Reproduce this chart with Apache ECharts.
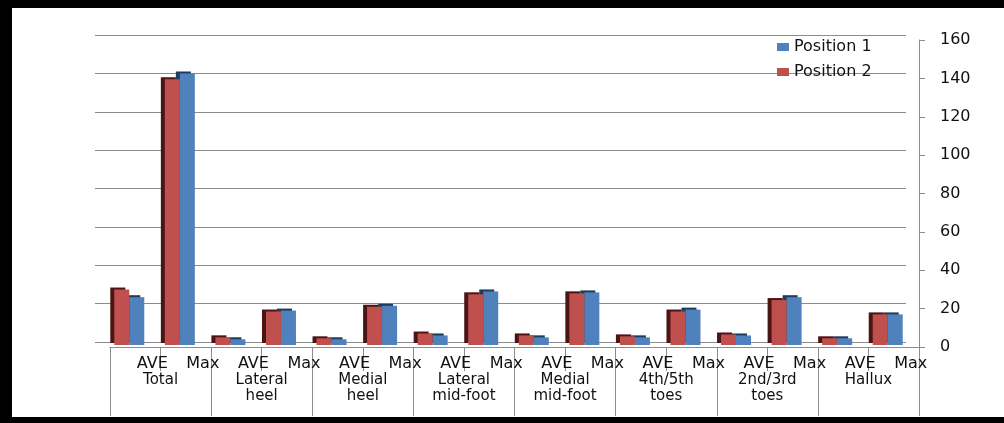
<!DOCTYPE html>
<html>
<head>
<meta charset="utf-8">
<script src="https://cdn.jsdelivr.net/npm/echarts@6/dist/echarts.min.js"></script>
<style>
  html, body { margin: 0; padding: 0; background: #fff; }
  #chart { position: absolute; left: 0; top: 0; width: 1004px; height: 423px; }
  #frame {
    position: absolute; left: 0; top: 0; width: 1004px; height: 423px;
    box-sizing: border-box; pointer-events: none;
    border-left: 12px solid #000; border-top: 8px solid #000; border-bottom: 6px solid #000;
  }
</style>
</head>
<body>
<div id="chart"></div>
<div id="frame"></div>
<script>
// categories
const regions = ['Total', 'Lateral\nheel', 'Medial\nheel', 'Lateral\nmid-foot',
  'Medial\nmid-foot', '4th/5th\ntoes', '2nd/3rd\ntoes', 'Hallux']
const stats = ['AVE', 'Max']

// series values, AVE/Max per region
const position1 = [25, 142, 3, 18, 3, 20.5, 5, 28, 4, 27.5, 4, 18.5, 5, 25, 3.5, 16]
const position2 = [29, 139, 4, 17.5, 3.5, 20, 6, 26.5, 5, 27, 4.5, 17.5, 5.5, 23.5, 3.5, 16]

// unique keys, one slot per bar pair
const cats = regions.flatMap(r => stats.map(s => r + '|' + s))

const FONT = 'DejaVu Sans'
const GRID_GRAY = '#8c8c8c'

const chart = echarts.init(document.getElementById('chart'))

const front = { left: 110, right: 85, top: 40, bottom: 76 }

chart.setOption({
  backgroundColor: '#fff',
  animation: false,
  textStyle: { fontFamily: FONT },
  legend: {
    orient: 'vertical',
    left: 772,
    top: 34,
    icon: 'rect',
    itemWidth: 12,
    itemHeight: 8,
    itemGap: 9,
    data: ['Position 1', 'Position 2'],
    textStyle: { fontFamily: FONT, fontSize: 16, color: '#111' },
  },
  grid: [
    // back wall (gridlines)
    { left: 95, right: 98, top: 35, bottom: 81 },
    // bars
    { left: 104, right: 91, top: 39, bottom: 78 },
    // front axes: AVE/Max + y axis
    front,
    // region axis
    front,
    // short separators
    front,
  ],
  xAxis: [
    { type: 'category', gridIndex: 0, data: cats, show: false },
    { type: 'category', gridIndex: 1, data: cats, show: false },
    {
      // AVE / Max labels
      type: 'category',
      gridIndex: 2,
      data: cats,
      axisLine: { lineStyle: { color: GRID_GRAY, width: 1 } },
      axisTick: { show: false },
      axisLabel: {
        interval: 0,
        margin: 9,
        padding: [0, 0, 0, 34],
        color: '#111',
        fontFamily: FONT,
        fontSize: 16,
        formatter: v => v.split('|')[1],
      },
    },
    {
      // region labels + long separators
      type: 'category',
      gridIndex: 3,
      data: regions,
      axisLine: { show: false },
      axisTick: { show: true, interval: 0, length: 69, lineStyle: { color: GRID_GRAY } },
      axisLabel: {
        interval: 0,
        margin: 25,
        lineHeight: 16,
        color: '#111',
        fontFamily: FONT,
        fontSize: 15,
      },
    },
    {
      // short separators at every category boundary
      type: 'value',
      gridIndex: 4,
      min: 0,
      max: cats.length,
      interval: 1,
      axisLine: { show: false },
      axisTick: { show: true, length: 24, lineStyle: { color: GRID_GRAY, width: 1 } },
      axisLabel: { show: false },
      splitLine: { show: false },
    },
  ],
  yAxis: [
    {
      type: 'value', gridIndex: 0, min: 0, max: 160, interval: 20,
      axisLine: { show: false }, axisTick: { show: false }, axisLabel: { show: false },
      splitLine: { lineStyle: { color: GRID_GRAY, width: 1.2 } },
    },
    {
      type: 'value', gridIndex: 1, min: 0, max: 160, interval: 20, show: false,
      splitLine: { show: false },
    },
    {
      type: 'value', gridIndex: 2, min: 0, max: 160, interval: 20,
      position: 'right',
      axisLine: { show: true, lineStyle: { color: GRID_GRAY, width: 1 } },
      axisTick: { show: true, length: 6, lineStyle: { color: GRID_GRAY } },
      axisLabel: { margin: 21, color: '#111', fontFamily: FONT, fontSize: 16 },
      splitLine: { show: false },
    },
    { type: 'value', gridIndex: 3, min: 0, max: 160, show: false, splitLine: { show: false } },
    { type: 'value', gridIndex: 4, min: 0, max: 160, show: false, splitLine: { show: false } },
  ],
  series: [
    {
      name: 'Position 2',
      type: 'bar',
      xAxisIndex: 1,
      yAxisIndex: 1,
      data: position2,
      barWidth: 15,
      barGap: '0%',
      z: 4,
      itemStyle: {
        color: '#c0504d',
        shadowColor: '#4a1514',
        shadowBlur: 0,
        shadowOffsetX: -4,
        shadowOffsetY: -2,
      },
    },
    {
      name: 'Position 1',
      type: 'bar',
      xAxisIndex: 1,
      yAxisIndex: 1,
      data: position1,
      barWidth: 15,
      barGap: '0%',
      z: 3,
      itemStyle: {
        color: '#4f81bd',
        shadowColor: '#1d3d5e',
        shadowBlur: 0,
        shadowOffsetX: -4,
        shadowOffsetY: -2,
      },
    },
  ],
})
</script>
</body>
</html>
